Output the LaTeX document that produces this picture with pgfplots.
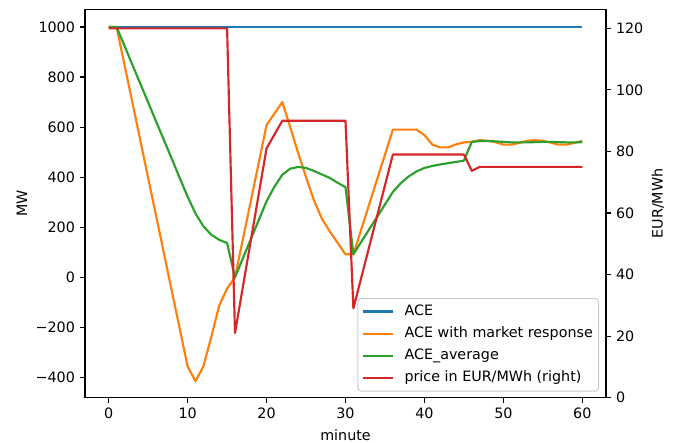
\documentclass[border=0pt]{standalone}
\usepackage{fontspec}
\setmainfont{DejaVu Sans}
\usepackage{pgfplots}
\pgfplotsset{compat=1.18}
\definecolor{tabblue}{HTML}{1F77B4}
\definecolor{taborange}{HTML}{FF7F0E}
\definecolor{tabgreen}{HTML}{2CA02C}
\definecolor{tabred}{HTML}{D62728}
\newcommand{\fs}{\fontsize{10.3}{12}\selectfont}

% minute, ACE, ACE with market response, ACE_average
\pgfplotstableread{
m ace resp avg
0 1000 1000 1000
1 1000 1000 1000
2 1000 849 925
3 1000 699 849
4 1000 548 774
5 1000 397 699
6 1000 247 623
7 1000 96 548
8 1000 -55 473
9 1000 -205 397
10 1000 -356 322
11 1000 -415 255
12 1000 -355 204
13 1000 -238 170
14 1000 -113 150
15 1000 -45 137
16 1000 0 0
17 1000 152 76
18 1000 304 152
19 1000 456 228
20 1000 608 304
21 1000 654 362
22 1000 700 410
23 1000 600 434
24 1000 497 441
25 1000 400 437
26 1000 308 425
27 1000 235 411
28 1000 184 397
29 1000 138 378
30 1000 92 360
31 1000 92 92
32 1000 192 142
33 1000 291 192
34 1000 391 241
35 1000 490 291
36 1000 590 341
37 1000 590 376
38 1000 590 403
39 1000 590 423
40 1000 568 437
41 1000 530 445
42 1000 519 451
43 1000 519 456
44 1000 531 461
45 1000 539 466
46 1000 541 541
47 1000 548 544
48 1000 545 545
49 1000 540 543
50 1000 530 541
51 1000 530 539
52 1000 537 539
53 1000 545 539
54 1000 548 540
55 1000 545 541
56 1000 538 541
57 1000 530 540
58 1000 530 539
59 1000 537 539
60 1000 545 540
}\acetable

% minute, price in EUR/MWh
\pgfplotstableread{
m price
0 120
15 120
16 21
17 36
18 51
19 66
20 81
21 85.5
22 90
30 90
31 29
32 39
33 49
34 59
35 69
36 79
45 79
46 73.7
47 75
60 75
}\pricetable

\pgfplotsset{
 base/.style={scale only axis,width=375.1pt,height=279.6pt,
  xmin=-3,xmax=63,
  axis line style={line width=0.82pt},
  tick style={line width=0.82pt,black},
  tick align=outside,major tick length=3.6pt,minor tick num=0,
  /pgf/number format/assume math mode=true,
  tick label style={font=\fs},label style={font=\fs},
  every axis plot/.append style={line width=1.55pt,line join=round}}}

\begin{document}
\fs
\begin{tikzpicture}
\begin{axis}[base,
 ymin=-480.5,ymax=1070.5,
 xtick pos=bottom,ytick pos=left,
 xtick={0,10,...,60},
 ytick={-400,-200,0,200,400,600,800,1000},
 yticklabels={−400,−200,0,200,400,600,800,1000},
 xlabel={minute},ylabel={MW},
 every axis x label/.style={at={(rel axis cs:0.5,0)},yshift=-26.9pt,anchor=center},
 every axis y label/.style={at={(rel axis cs:0,0.5)},xshift=-45.4pt,rotate=90,anchor=center},
 legend cell align=left,
 legend image code/.code={\draw[#1] (0pt,0pt) -- (21.6pt,0pt);},
 legend style={at={(1,0)},anchor=south east,xshift=-5pt,yshift=4.3pt,
  draw=black!20,line width=0.75pt,rounded corners=2.5pt,
  fill=white,fill opacity=0.8,text opacity=1,
  inner xsep=3.1pt,inner ysep=3.45pt,row sep=4.2pt,column sep=6.4pt,
  nodes={inner sep=1pt,text height=7.6pt,text depth=2.2pt},font=\fs}]
\addplot[tabblue] table[x=m,y=ace] {\acetable};
\addlegendentry{ACE}
\addplot[taborange] table[x=m,y=resp] {\acetable};
\addlegendentry{ACE with market response}
\addplot[tabgreen] table[x=m,y=avg] {\acetable};
\addlegendentry{ACE\_average}
\addlegendimage{tabred,line width=1.55pt}
\addlegendentry{price in EUR/MWh (right)}
\end{axis}
\begin{axis}[base,
 ymin=0,ymax=126.2,
 axis x line=none,axis y line*=right,
 ytick={0,20,...,120},
 ylabel={EUR/MWh},
 every axis y label/.style={at={(rel axis cs:1,0.5)},xshift=37.4pt,rotate=90,anchor=center}]
\addplot[tabred] table[x=m,y=price] {\pricetable};
\end{axis}
\pgfresetboundingbox
\path[use as bounding box] (-61.2pt,-32.6pt) rectangle (436.3pt,286.3pt);
\end{tikzpicture}
\end{document}
